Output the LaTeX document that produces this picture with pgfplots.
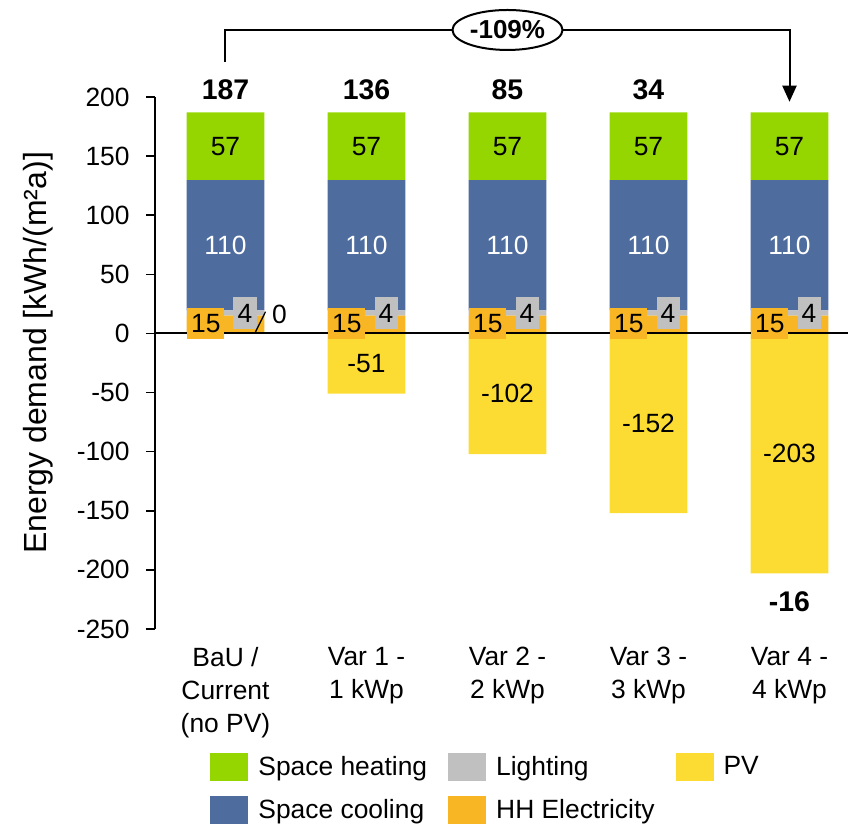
\documentclass[border=0pt]{standalone}
\usepackage{pgfplots}
\pgfplotsset{compat=1.18}
\usetikzlibrary{arrows.meta,shapes.geometric}
\usepackage{fontspec}
\setmainfont{Liberation Sans}
\definecolor{heat}{HTML}{95D600}
\definecolor{cool}{HTML}{4E6C9E}
\definecolor{light}{HTML}{C0C0C0}
\definecolor{hh}{HTML}{F8B624}
\definecolor{pv}{HTML}{FCDC32}
\newcommand\fs{\fontsize{13.2}{16.5}\selectfont}
\newcommand\fb{\fontsize{14.2}{16}\selectfont\bfseries}
\begin{document}
\begin{tikzpicture}
\useasboundingbox (-77.5pt,-98.5pt) rectangle (346.5pt,314.5pt);
\pgfplotsset{
 base/.style={at={(0pt,0pt)}, anchor=south west, scale only axis,
   x=70.5pt, y=0.5911pt, xmin=-0.5, xmax=4.42, ymin=-250, ymax=200,
   clip=false, bar width=0.553},
 lg/.style={draw=none, fill=#1, legend image code/.code={\fill[#1] (0pt,-7pt) rectangle (19pt,7pt);}}
}
\begin{axis}[base, ybar stacked,
 axis y line*=left, axis x line*=bottom,
 x axis line style={draw=none},
 y axis line style={line width=0.75pt},
 xtick={0,1,2,3,4},
 xticklabels={{BaU /\\Current\\(no PV)},{Var 1 -\\1 kWp},{Var 2 -\\2 kWp},{Var 3 -\\3 kWp},{Var 4 -\\4 kWp}},
 xtick style={draw=none},
 xticklabel style={align=center, font=\fs, inner sep=0pt, yshift=-4.5pt},
 ytick={-250,-200,...,200},
 ytick style={line width=0.75pt, black},
 tick align=outside, major tick length=4.5pt,
 yticklabel style={font=\fs, inner sep=0pt, xshift=-8pt},
 /pgf/number format/assume math mode=true,
 ylabel={Energy demand [kWh/(m²a)]},
 every axis y label/.style={at={(axis description cs:-0.1687,0.519)}, anchor=center, rotate=90, font=\fontsize{16}{18}\selectfont},
 legend columns=3, legend cell align=left,
 legend style={at={(axis description cs:0,0)}, anchor=north west, xshift=27.5pt, yshift=-62pt,
   draw=none, inner sep=0pt, font=\fs, row sep=7.5pt,
   /tikz/every even column/.append style={column sep=10.5pt},
   /tikz/every odd column/.append style={column sep=5pt},
   nodes={inner sep=0pt}},
]
\addlegendimage{lg=heat} \addlegendentry{Space heating}
\addlegendimage{lg=light} \addlegendentry{Lighting}
\addlegendimage{lg=pv} \addlegendentry{PV}
\addlegendimage{lg=cool} \addlegendentry{Space cooling}
\addlegendimage{lg=hh} \addlegendentry{HH Electricity}
\addplot[fill=hh, draw=none, forget plot] coordinates {(0,15) (1,15) (2,15) (3,15) (4,15)};
\addplot[fill=light, draw=none, forget plot] coordinates {(0,4.5) (1,4.5) (2,4.5) (3,4.5) (4,4.5)};
\addplot[fill=cool, draw=none, forget plot] coordinates {(0,110.3) (1,110.3) (2,110.3) (3,110.3) (4,110.3)};
\addplot[fill=heat, draw=none, forget plot] coordinates {(0,57.2) (1,57.2) (2,57.2) (3,57.2) (4,57.2)};
\end{axis}
\begin{axis}[base, ybar, hide axis]
\addplot[fill=pv, draw=none, bar shift=0pt] coordinates {(0,0) (1,-51) (2,-102) (3,-152) (4,-203)};
\draw[line width=1pt] (axis cs:-0.5,0) -- (axis cs:4.42,0);
\pgfplotsinvokeforeach{0,...,4}{
 \node[font=\fs] at (axis cs:#1,158.4) {57};
 \node[font=\fs, text=white] at (axis cs:#1,74.6) {110};
 \node[font=\fs, fill=hh, inner sep=0pt, minimum width=18.5pt, minimum height=15.8pt] at ([xshift=-9.8pt]axis cs:#1,8.4) {15};
 \node[font=\fs, fill=light, inner sep=0pt, minimum width=11.5pt, minimum height=16pt] at ([xshift=9.75pt]axis cs:#1,17.3) {4};
}
\node[font=\fb, anchor=base] at ([yshift=6.5pt]axis cs:0,187) {187};
\node[font=\fb, anchor=base] at ([yshift=6.5pt]axis cs:1,187) {136};
\node[font=\fb, anchor=base] at ([yshift=6.5pt]axis cs:2,187) {85};
\node[font=\fb, anchor=base] at ([yshift=6.5pt]axis cs:3,187) {34};
\node[font=\fs] at (axis cs:1,-25.5) {-51};
\node[font=\fs] at (axis cs:2,-51) {-102};
\node[font=\fs] at (axis cs:3,-76) {-152};
\node[font=\fs] at (axis cs:4,-101.5) {-203};
\node[font=\fb] at (axis cs:4,-227.2) {-16};
\node[font=\fs] at (axis cs:0.383,16.4) {0};
\draw[line width=0.65pt] (axis cs:0.213,1.4) -- (axis cs:0.284,18.4);
\draw[line width=1pt, line join=miter, -{Triangle[width=7pt,length=8pt]}] (axis cs:0,229.6) |- (axis cs:4,256.7) -- (axis cs:4,196);
\node[ellipse, draw, line width=1pt, fill=white, minimum width=55pt, minimum height=20pt, inner sep=0pt, font=\fontsize{13}{15}\selectfont\bfseries] at (axis cs:2,256.7) {-109\%};
\end{axis}
\end{tikzpicture}
\end{document}
